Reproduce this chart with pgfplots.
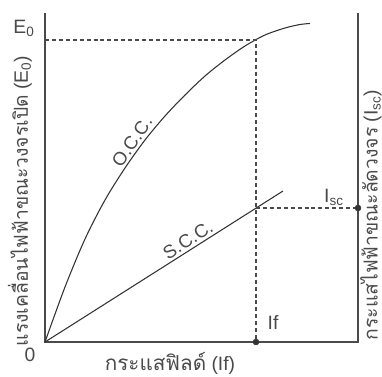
\documentclass[border=0pt]{standalone}
\usepackage{pgfplots}
\pgfplotsset{compat=1.18}
\usepackage{fontspec}
\setmainfont{Liberation Sans}
\newfontfamily\thaifont[Script=Thai]{Loma}
\definecolor{txt}{HTML}{4A4A4A}
\definecolor{ln}{HTML}{333333}
\begin{document}
\begin{tikzpicture}
\begin{axis}[
  scale only axis,
  width=234.75pt, height=246.75pt,
  xmin=0, xmax=313, ymin=0, ymax=329,
  axis lines=none,
  clip=false,
  ticks=none,
]
% axes frame
\addplot[color=txt, line width=1pt] coordinates {(0,329) (0,0) (313,0) (313,329)};
% O.C.C.
\addplot[color=ln, line width=0.8pt, smooth] coordinates {
 (0,0) (20,55) (40,103) (60,142) (80,174) (100,202) (120,226) (140,247)
 (160,266) (180,282) (200,296) (220,307) (240,314) (255,317.5) (265,318.5)};
% S.C.C.
\addplot[color=ln, line width=0.8pt] coordinates {(0,0) (238,151)};
% dashed guides
\addplot[color=txt, line width=1pt, dash pattern=on 3pt off 2.2pt] coordinates {(0,302) (211,302) (211,0)};
\addplot[color=txt, line width=1pt, dash pattern=on 3pt off 2.2pt] coordinates {(211,134) (313,134)};
% dots
\addplot[only marks, mark=*, mark size=2.2pt, color=ln] coordinates {(211,0) (313,134)};
% labels
\node[txt, rotate=56, anchor=south, font=\fontsize{14}{16}\selectfont, inner sep=2pt] at (axis cs:95,195) {O.C.C.};
\node[txt, rotate=32.4, anchor=south, font=\fontsize{14}{16}\selectfont, inner sep=2pt] at (axis cs:148,94) {S.C.C.};
\node[txt, font=\fontsize{14.5}{16}\selectfont] at (axis cs:-21,314) {E\textsubscript{0}};
\node[txt, font=\fontsize{14.5}{16}\selectfont] at (axis cs:-15,-13) {0};
\node[txt, font=\fontsize{14.5}{16}\selectfont] at (axis cs:125,-21) {{\thaifont\fontsize{15.5}{17}\selectfont กระแสฟิลด์} (If)};
\node[txt, rotate=90, font=\fontsize{14.5}{16}\selectfont] at (axis cs:-25,141) {{\thaifont แรงเคลื่อนไฟฟ้าขณะวงจรเปิด} (E\textsubscript{0})};
\node[txt, rotate=90, font=\fontsize{14.5}{16}\selectfont] at (axis cs:326,127) {{\thaifont กระแสไฟฟ้าขณะลัดวงจร} (I\textsubscript{sc})};
\node[txt, font=\fontsize{14.5}{16}\selectfont] at (axis cs:228,20) {If};
\node[txt, font=\fontsize{14.5}{16}\selectfont] at (axis cs:289,145) {I\textsubscript{sc}};
\end{axis}
\pgfresetboundingbox
\path[use as bounding box] (-33.75pt,-25.5pt) rectangle (252.75pt,256.5pt);
\end{tikzpicture}
\end{document}
